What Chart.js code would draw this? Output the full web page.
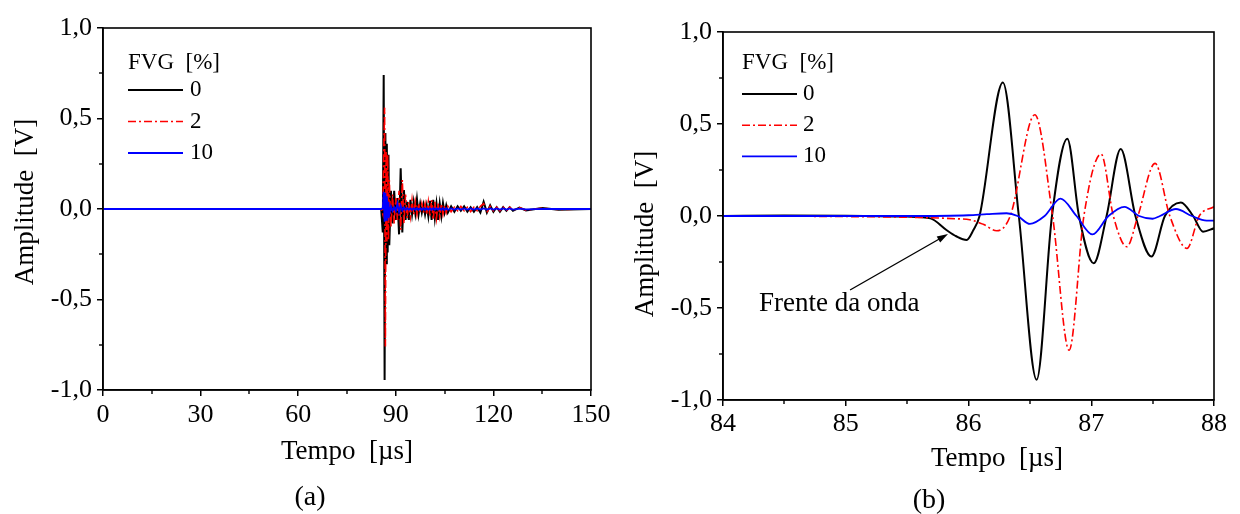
<!DOCTYPE html>
<html lang="pt">
<head>
<meta charset="utf-8">
<title>Amplitude x Tempo - FVG</title>
<script src="https://cdn.jsdelivr.net/npm/chart.js@4.4.1/dist/chart.umd.min.js"></script>
<style>
  html, body { margin: 0; padding: 0; background: #fff; }
  #painel { position: relative; width: 1240px; height: 514px; }
  .grafico { position: absolute; top: 0; width: 620px; height: 514px; }
</style>
</head>
<body>
<div id="painel">
  <div class="grafico" style="left:0"><canvas id="graficoA" width="620" height="514"></canvas></div>
  <div class="grafico" style="left:620px"><canvas id="graficoB" width="620" height="514"></canvas></div>
</div>
<script>
// ===== dados =====
const rotulosFVG = ['0', '2', '10'];

// (a) sinal completo, 0 a 150 µs
const tempoA = [
  0, 30, 60, 85.5,
  86.0, 86.28, 86.56, 86.8, 87.02, 87.24, 87.5, 87.75,
  88.0, 88.5, 89.0, 89.5, 90.0, 90.5, 91.0, 91.5, 92.0, 92.5,
  93.0, 93.5, 94.0, 94.5, 95.0, 95.5, 96.0, 96.5, 97.0, 97.5,
  98.0, 98.5, 99.0, 99.5, 100.0, 100.5, 101.0, 101.5, 102.0, 102.5,
  103.0, 103.5, 104.0, 104.5, 105.0, 105.5, 106.0,
  107, 108, 109, 110, 111, 112, 113, 114, 115, 116,
  117, 118, 119, 120, 121, 122, 123, 124, 125, 126,
  128, 130, 135, 140, 150
];
const amplitudeA0 = [
  0, 0, 0, 0,
  -0.13, 0.74, -0.945, 0.42, -0.30, 0.36, -0.24, 0.30,
  -0.20, 0.10, -0.08, 0.10, -0.06, 0.06, -0.14, 0.225, -0.13, 0.105,
  -0.06, 0.04, -0.06, 0.05, -0.03, 0.04, -0.025, 0.055, -0.03, 0.03,
  -0.02, 0.025, -0.03, 0.02, -0.04, 0.045, -0.06, 0.05, -0.05, 0.03,
  -0.06, 0.03, -0.04, 0.033, -0.02, 0.02, -0.02,
  0.015, -0.015, 0.015, -0.01, 0.015, -0.015, 0.01, -0.015, 0.01, -0.02,
  0.04, -0.02, 0.02, -0.015, 0.01, -0.015, 0.01, -0.01, 0.01, -0.01,
  0.008, -0.008, 0.005, -0.004, 0
];
const amplitudeA2 = [
  0, 0, 0, 0,
  -0.03, 0.30, 0.56, -0.76, 0.32, -0.18, 0.30, -0.17,
  0.16, -0.10, 0.08, -0.08, 0.06, -0.06, 0.10, -0.115, 0.16, -0.08,
  0.08, -0.05, 0.04, -0.04, 0.05, -0.03, 0.04, -0.03, 0.03, -0.02,
  0.03, -0.02, 0.03, -0.03, 0.04, -0.04, 0.05, -0.06, 0.04, -0.05,
  0.03, -0.04, 0.03, -0.03, 0.02, -0.02, 0.015,
  -0.015, 0.01, -0.01, 0.015, -0.01, 0.01, -0.015, 0.01, -0.01, 0.015,
  0.03, -0.02, 0.015, -0.01, 0.01, -0.01, 0.01, -0.01, 0.01, -0.008,
  0.008, -0.006, 0.004, -0.003, 0
];
const amplitudeA10 = [
  0, 0, 0, 0,
  0.005, 0.095, -0.07, 0.09, -0.06, 0.07, -0.05, 0.04,
  -0.03, 0.015, -0.01, 0.01, -0.01, 0.03, -0.015, 0.02, -0.008, 0.008,
  -0.005, 0.005, -0.004, 0.004, -0.004, 0.004, -0.004, 0.004, -0.004, 0.004,
  -0.004, 0.004, -0.004, 0.004, -0.004, 0.004, -0.004, 0.004, -0.004, 0.004,
  -0.004, 0.004, -0.004, 0.004, -0.004, 0.004, -0.004,
  0.003, -0.003, 0.003, -0.003, 0.003, -0.003, 0.003, -0.003, 0.003, -0.003,
  0.003, -0.003, 0.003, -0.003, 0.003, -0.003, 0.003, -0.003, 0.003, -0.003,
  0.002, -0.002, 0.001, 0, 0
];

// (b) detalhe da chegada da onda, 84 a 88 µs
const tempoB0 = [84, 84.5, 85.0, 85.5, 85.69, 85.82, 85.9, 85.985, 86.04, 86.09, 86.28, 86.41, 86.555,
  86.68, 86.805, 86.90, 87.02, 87.125, 87.24, 87.36, 87.49, 87.60, 87.73, 87.83, 87.91, 88];
const amplitudeB0 = [0, 0.003, 0.002, -0.003, -0.013, -0.076, -0.11, -0.13, -0.076, 0, 0.725, 0, -0.89,
  0, 0.42, 0, -0.257, 0, 0.364, 0, -0.22, 0, 0.074, 0, -0.085, -0.067];
const tempoB2 = [84, 85.0, 85.6, 85.9, 86.01, 86.12, 86.23, 86.34, 86.54, 86.685, 86.82,
  86.94, 87.08, 87.18, 87.29, 87.38, 87.52, 87.64, 87.78, 87.88, 88];
const amplitudeB2 = [0, -0.003, -0.008, -0.015, -0.02, -0.045, -0.08, 0, 0.55, 0, -0.73,
  0, 0.337, 0, -0.167, 0, 0.286, 0, -0.176, 0, 0.05];
const tempoB10 = [84, 85.5, 86.0, 86.15, 86.31, 86.40, 86.50, 86.62, 86.75, 86.88,
  87.01, 87.14, 87.27, 87.39, 87.50, 87.56, 87.69, 87.82, 87.94, 88];
const amplitudeB10 = [0, 0, 0.004, 0.01, 0.015, 0, -0.043, 0, 0.094, 0,
  -0.10, 0, 0.05, 0, -0.015, 0, 0.038, 0, -0.025, -0.025];

// anotação "Frente da onda" (coordenadas em µs / V)
const setaFrente = [[85.035, -0.402], [85.833, -0.098]];
const posTextoFrente = [84.293, -0.516];

// ===== estilo =====
const FONTE = '"Liberation Serif", "Times New Roman", Times, serif';
const estilos = [
  { cor: '#000000', traco: [], largura: 2 },
  { cor: '#ff0000', traco: [8, 3, 2, 3], largura: 1.6 },
  { cor: '#0000ff', traco: [], largura: 1.8 }
];

Chart.defaults.font.family = FONTE;
Chart.defaults.color = '#000';

function montarSerie(tempo, amp) {
  return tempo.map((t, i) => ({ x: t, y: amp[i] }));
}

function montarDatasets(series, suave) {
  return series.map((s, i) => ({
    label: rotulosFVG[i],
    data: s,
    borderColor: estilos[i].cor,
    borderWidth: estilos[i].largura,
    borderDash: estilos[i].traco,
    pointRadius: 0,
    fill: false,
    tension: 0,
    cubicInterpolationMode: suave ? 'monotone' : 'default',
    order: 2 - i   // azul por cima
  }));
}

// moldura + ticks menores
const molduraPlugin = {
  id: 'moldura',
  afterDatasetsDraw(chart) {
    const { ctx, chartArea: a, scales } = chart;
    ctx.save();
    ctx.strokeStyle = '#000';
    ctx.lineWidth = 1.6;
    ctx.strokeRect(a.left, a.top, a.right - a.left, a.bottom - a.top);
    ctx.lineWidth = 1.4;
    const tx = scales.x.ticks.map(t => t.value);
    for (let i = 0; i < tx.length - 1; i++) {
      const px = Math.round(scales.x.getPixelForValue((tx[i] + tx[i + 1]) / 2));
      ctx.beginPath(); ctx.moveTo(px, a.bottom); ctx.lineTo(px, a.bottom + 4); ctx.stroke();
    }
    const ty = scales.y.ticks.map(t => t.value);
    for (let i = 0; i < ty.length - 1; i++) {
      const py = Math.round(scales.y.getPixelForValue((ty[i] + ty[i + 1]) / 2));
      ctx.beginPath(); ctx.moveTo(a.left, py); ctx.lineTo(a.left - 4, py); ctx.stroke();
    }
    ctx.restore();
  }
};

// legenda no estilo da figura (título + amostras de linha)
const legendaPlugin = {
  id: 'legendaFVG',
  afterDraw(chart, args, o) {
    const { ctx, chartArea: a } = chart;
    const x0 = a.left + o.x;
    ctx.save();
    ctx.font = o.tamanho + 'px ' + FONTE;
    ctx.fillStyle = '#000';
    ctx.textAlign = 'left';
    ctx.textBaseline = 'middle';
    ctx.fillText(o.titulo, x0, a.top + o.yTitulo);
    chart.data.datasets.forEach((ds, i) => {
      const y = a.top + o.y0 + i * o.passo;
      ctx.strokeStyle = ds.borderColor;
      ctx.lineWidth = ds.borderWidth;
      ctx.setLineDash(ds.borderDash || []);
      ctx.beginPath(); ctx.moveTo(x0, y); ctx.lineTo(x0 + o.comprimento, y); ctx.stroke();
      ctx.setLineDash([]);
      ctx.fillText(ds.label, x0 + o.comprimento + o.espaco, y);
    });
    ctx.restore();
  }
};

// títulos dos eixos e rótulo do painel
const textosPlugin = {
  id: 'textosPainel',
  afterDraw(chart, args, o) {
    const { ctx } = chart;
    ctx.save();
    ctx.fillStyle = '#000';
    ctx.textBaseline = 'alphabetic';
    ctx.textAlign = 'center';
    ctx.font = o.tamanhoTitulo + 'px ' + FONTE;
    ctx.fillText(o.tituloX.texto, o.tituloX.x, o.tituloX.y);
    ctx.save();
    ctx.translate(o.tituloY.x, o.tituloY.y);
    ctx.rotate(-Math.PI / 2);
    ctx.fillText(o.tituloY.texto, 0, 0);
    ctx.restore();
    ctx.font = o.tamanhoRotulo + 'px ' + FONTE;
    ctx.fillText(o.rotulo.texto, o.rotulo.x, o.rotulo.y);
    ctx.restore();
  }
};

// seta "Frente da onda"
const setaPlugin = {
  id: 'seta',
  afterDraw(chart, args, o) {
    if (!o || !o.texto) return;
    const { ctx, scales: { x, y } } = chart;
    const x1 = x.getPixelForValue(setaFrente[0][0]), y1 = y.getPixelForValue(setaFrente[0][1]);
    const x2 = x.getPixelForValue(setaFrente[1][0]), y2 = y.getPixelForValue(setaFrente[1][1]);
    const ang = Math.atan2(y2 - y1, x2 - x1);
    ctx.save();
    ctx.strokeStyle = '#000';
    ctx.fillStyle = '#000';
    ctx.lineWidth = 1.3;
    ctx.beginPath(); ctx.moveTo(x1, y1); ctx.lineTo(x2 - 6 * Math.cos(ang), y2 - 6 * Math.sin(ang)); ctx.stroke();
    ctx.beginPath();
    ctx.moveTo(x2, y2);
    ctx.lineTo(x2 - 11 * Math.cos(ang) + 3.5 * Math.sin(ang), y2 - 11 * Math.sin(ang) - 3.5 * Math.cos(ang));
    ctx.lineTo(x2 - 11 * Math.cos(ang) - 3.5 * Math.sin(ang), y2 - 11 * Math.sin(ang) + 3.5 * Math.cos(ang));
    ctx.closePath(); ctx.fill();
    ctx.font = o.tamanho + 'px ' + FONTE;
    ctx.textAlign = 'left';
    ctx.textBaseline = 'alphabetic';
    ctx.fillText(o.texto, x.getPixelForValue(posTextoFrente[0]), y.getPixelForValue(posTextoFrente[1]));
    ctx.restore();
  }
};

function eixos(minX, maxX, passoX, alturaX, padX) {
  const grade = { display: true, drawOnChartArea: false, drawTicks: true, tickLength: 6, color: '#000', lineWidth: 1.5 };
  const borda = { display: true, color: '#000', width: 1.6 };
  return {
    x: {
      type: 'linear', min: minX, max: maxX,
      ticks: { stepSize: passoX, padding: padX, autoSkip: false, maxRotation: 0, color: '#000',
        font: { size: 26 }, callback: v => String(v) },
      grid: grade, border: borda,
      afterFit: s => { s.height = alturaX; }
    },
    y: {
      type: 'linear', min: -1, max: 1,
      ticks: { stepSize: 0.5, padding: 5, autoSkip: false, color: '#000',
        font: { size: 26 }, callback: v => v.toFixed(1).replace('.', ',') },
      grid: grade, border: borda,
      afterFit: s => { s.width = 103; }
    }
  };
}

function criarGrafico(id, datasets, cfg) {
  return new Chart(document.getElementById(id), {
    type: 'line',
    data: { datasets },
    options: {
      responsive: false,
      animation: false,
      devicePixelRatio: 1,
      events: [],
      layout: { padding: cfg.padding },
      scales: eixos(cfg.minX, cfg.maxX, cfg.passoX, cfg.alturaX, cfg.padX),
      plugins: {
        legend: { display: false },
        tooltip: { enabled: false },
        legendaFVG: cfg.legenda,
        textosPainel: cfg.textos,
        seta: cfg.seta || {}
      }
    },
    plugins: [molduraPlugin, legendaPlugin, textosPlugin, setaPlugin]
  });
}

criarGrafico('graficoA', montarDatasets([
  montarSerie(tempoA, amplitudeA0),
  montarSerie(tempoA, amplitudeA2),
  montarSerie(tempoA, amplitudeA10)
], false), {
  minX: 0, maxX: 150, passoX: 30, alturaX: 124, padX: 4,
  padding: { top: 28, right: 29, left: 0, bottom: 0 },
  legenda: { titulo: 'FVG  [%]', x: 25, yTitulo: 35, y0: 62, passo: 31.5, comprimento: 55, espaco: 7, tamanho: 23 },
  textos: {
    tamanhoTitulo: 27, tamanhoRotulo: 28,
    tituloX: { texto: 'Tempo  [\u00b5s]', x: 347, y: 459 },
    tituloY: { texto: 'Amplitude  [V]', x: 33, y: 202 },
    rotulo: { texto: '(a)', x: 310, y: 505 }
  }
});

criarGrafico('graficoB', montarDatasets([
  montarSerie(tempoB0, amplitudeB0),
  montarSerie(tempoB2, amplitudeB2),
  montarSerie(tempoB10, amplitudeB10)
], true), {
  minX: 84, maxX: 88, passoX: 1, alturaX: 114, padX: 3,
  padding: { top: 32, right: 26, left: 0, bottom: 0 },
  legenda: { titulo: 'FVG  [%]', x: 19, yTitulo: 31, y0: 62, passo: 31.2, comprimento: 55, espaco: 6, tamanho: 23 },
  textos: {
    tamanhoTitulo: 27, tamanhoRotulo: 28,
    tituloX: { texto: 'Tempo  [\u00b5s]', x: 377, y: 466 },
    tituloY: { texto: 'Amplitude  [V]', x: 33, y: 234 },
    rotulo: { texto: '(b)', x: 309, y: 508 }
  },
  seta: { texto: 'Frente da onda', tamanho: 27 }
});
</script>
</body>
</html>
